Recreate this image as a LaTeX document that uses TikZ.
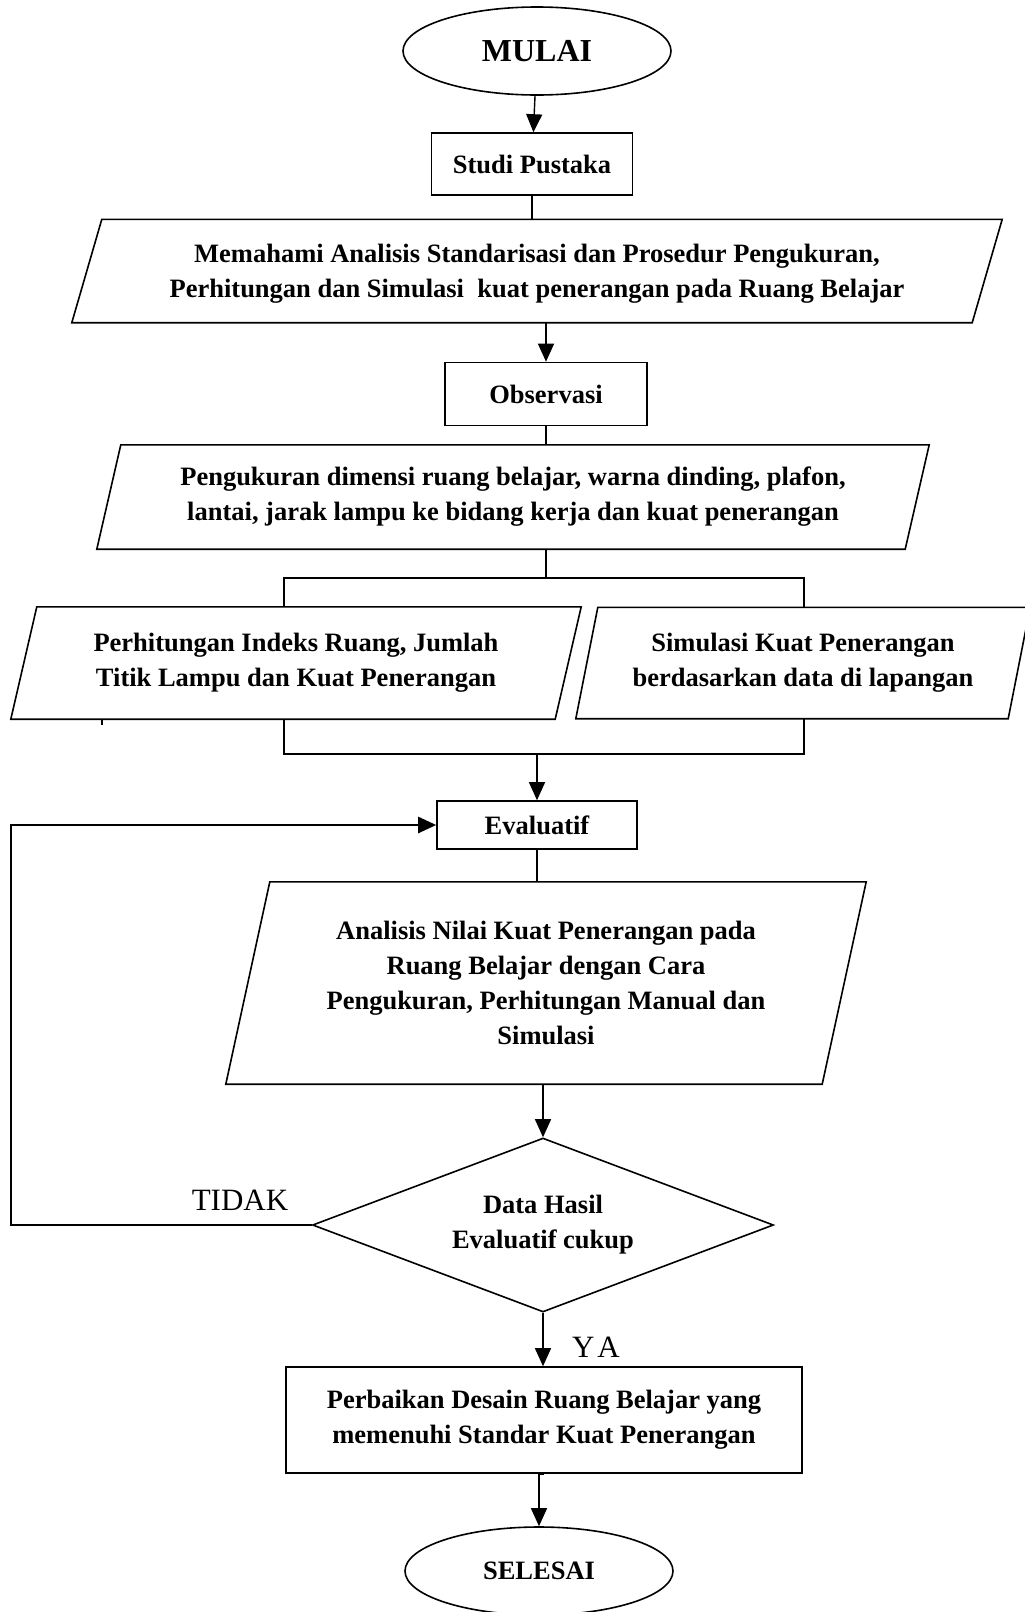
\documentclass[tikz,border=0pt]{standalone}
\usepackage{fontspec}
\setmainfont{Liberation Serif}
\usetikzlibrary{positioning, shapes.geometric, arrows.meta}

\newcommand{\slantframe}[2]{%
  \draw[boxline] ([xshift=#2]#1.north west) -- ([xshift=#2]#1.north east)
    -- ([xshift=-#2]#1.south east) -- ([xshift=-#2]#1.south west) -- cycle;}

\tikzset{
  boxline/.style={line width=1.6pt},
  txt/.style={font=\fontsize{26.5}{35}\selectfont\bfseries},
  terminal/.style={ellipse, draw, boxline, txt, minimum width=268pt, minimum height=88pt},
  procbox/.style={rectangle, draw, boxline, txt, align=center},
  iobox/.style={rectangle, txt, align=center, inner sep=0pt},
  decision/.style={diamond, draw, boxline, txt, align=center, aspect=2.65,
    minimum width=461pt, minimum height=174pt, inner sep=0pt},
  answer/.style={font=\fontsize{31}{36}\selectfont, anchor=base},
  link/.style={line width=1.4pt},
  flow/.style={link, -{Triangle[length=18pt,width=16pt]}},
}

\begin{document}
\begin{tikzpicture}[x=1pt, y=-1pt]
    \useasboundingbox (0,0) rectangle (1025,1612);

    \node[terminal, font=\fontsize{32}{36}\selectfont\bfseries] (start) at (537,51) {MULAI};
    \node[procbox, minimum width=201pt, minimum height=62pt] (studi) at (532,164) {Studi Pustaka};
    \node[iobox, minimum width=900pt, minimum height=103pt, text depth=-8pt] (paham) at (537,271)
        {Memahami Analisis Standarisasi dan Prosedur Pengukuran,\\
         Perhitungan dan Simulasi\ \ kuat penerangan pada Ruang Belajar};
    \node[procbox, minimum width=202pt, minimum height=63pt] (obs) at (546,394) {Observasi};
    \node[iobox, minimum width=808pt, minimum height=104pt] (ukur) at (513,497)
        {Pengukuran dimensi ruang belajar, warna dinding, plafon,\\
         lantai, jarak lampu ke bidang kerja dan kuat penerangan};
    \node[iobox, minimum width=544pt, minimum height=112pt] (hitung) at (296,663)
        {Perhitungan Indeks Ruang, Jumlah\\ Titik Lampu dan Kuat Penerangan};
    \node[iobox, minimum width=432pt, minimum height=111pt] (simul) at (803,663)
        {Simulasi Kuat Penerangan\\ berdasarkan data di lapangan};
    \node[procbox, minimum width=200pt, minimum height=48pt] (eval) at (537,825) {Evaluatif};
    \node[iobox, minimum width=596pt, minimum height=202pt] (analisis) at (546,983)
        {Analisis Nilai Kuat Penerangan pada\\ Ruang Belajar dengan Cara\\
         Pengukuran, Perhitungan Manual dan\\ Simulasi};
    \node[decision] (cek) at (543,1225) {Data Hasil\\ Evaluatif cukup};
    \node[procbox, minimum width=516pt, minimum height=106pt] (desain) at (544,1420)
        {Perbaikan Desain Ruang Belajar yang\\ memenuhi Standar Kuat Penerangan};
    \node[terminal] (stop) at (539,1571) {SELESAI};

    \slantframe{paham}{15}
    \slantframe{ukur}{12}
    \slantframe{hitung}{13}
    \slantframe{simul}{11}
    \slantframe{analisis}{22}

    \coordinate (splitL) at (284,578);
    \coordinate (splitR) at (804,578);
    \coordinate (joinL) at (284,754);
    \coordinate (joinR) at (804,754);
    \coordinate (back) at (11,825);

    \draw[flow] (start) -- (studi);
    \draw[link] (studi.south) -- (studi.south |- paham.north);
    \draw[flow] (paham.south -| obs.north) -- (obs.north);
    \draw[link] (obs.south) -- (obs.south |- ukur.north);
    \draw[link] (ukur.south -| obs.south) -- (obs.south |- splitL);
    \draw[link] (splitL |- hitung.north) -- (splitL) -- (splitR) -- (splitR |- simul.north);
    \draw[link] (joinL |- hitung.south) -- (joinL) -- (joinR) -- (joinR |- simul.south);
    \draw[link] (102,719) -- (102,725);
    \draw[flow] (eval.north |- joinL) -- (eval.north);
    \draw[link] (eval.south) -- (eval.south |- analisis.north);
    \draw[flow] (analisis.south -| cek.north) -- (cek.north);
    \draw[flow, line width=2.6pt] (cek.west) -| (back) -- (eval.west);
    \draw[flow] (cek.south) -- (cek.south |- desain.north);
    \draw[flow] (desain.south) -- (desain.south -| stop.north) -- (stop.north);

    \node[answer] (tidak) at (240,1210) {TIDAK};
    \node[answer] (ya) at (596,1357) {Y\kern3pt A};
\end{tikzpicture}
\end{document}
